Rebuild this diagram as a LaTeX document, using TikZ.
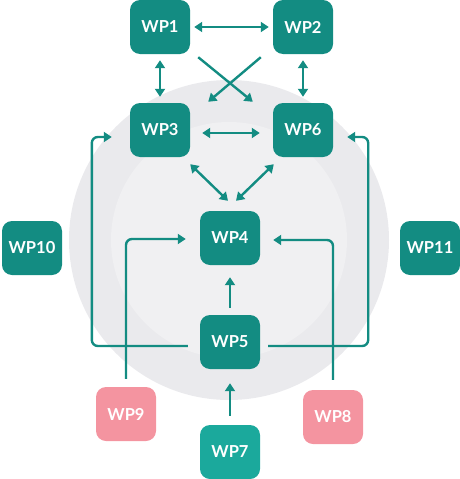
\documentclass[tikz,border=0pt]{standalone}
\usepackage{fontspec}
\setmainfont{Lato}
\usetikzlibrary{arrows.meta}
\definecolor{wpteal}{HTML}{138C82}
\definecolor{wplight}{HTML}{1BA99C}
\definecolor{wppink}{HTML}{F494A0}
\definecolor{ringout}{HTML}{EAEAED}
\definecolor{ringin}{HTML}{F0F0F2}
\tikzset{
  wp/.style={rectangle, rounded corners=10pt, minimum width=60pt, minimum height=54pt, inner sep=0pt, text centered, fill=wpteal, text=white, font=\bfseries\fontsize{16.5}{19}\selectfont},
  wpl/.style={wp, fill=wplight},
  wpp/.style={wp, fill=wppink},
  link/.style={draw=wpteal, line width=2.4pt},
}

\begin{document}
\begin{tikzpicture}[x=1pt, y=-1pt, >={Triangle[length=8pt,width=10pt]}]
	\useasboundingbox (0,0) rectangle (460,479);
	\fill[ringout] (229,240) circle (160);
	\fill[ringin] (229,240) circle (118);

	\node[wp] (wp1) at (160,27) {WP1};
	\node[wp] (wp2) at (303,27) {WP2};
	\node[wp] (wp3) at (160,130) {WP3};
	\node[wp] (wp6) at (303,130) {WP6};
	\node[wp] (wp4) at (230,238) {WP4};
	\node[wp] (wp5) at (230,342) {WP5};
	\node[wp] (wp10) at (32,248) {WP10};
	\node[wp] (wp11) at (430,248) {WP11};
	\node[wpp] (wp9) at (126,414) {WP9};
	\node[wpp] (wp8) at (333,417) {WP8};
	\node[wpl] (wp7) at (230,452) {WP7};
	%
	\draw[link, <->, shorten <=4pt, shorten >=4pt] (wp1) -- (wp2);
	\draw[link, <->, shorten <=6pt, shorten >=6pt] (wp1) -- (wp3);
	\draw[link, <->, shorten <=6pt, shorten >=6pt] (wp2) -- (wp6);
	\draw[link, ->] ([shift={(8,3)}]wp1.south east) -- ([shift={(-20,-1)}]wp6.north west);
	\draw[link, ->] ([shift={(-12,3)}]wp2.south west) -- ([shift={(18,-1)}]wp3.north east);
	\draw[link, <->] ([shift={(12,3)}]wp3.east) -- ([shift={(-13,3)}]wp6.west);

	\draw[link, <->] ([shift={(0,7)}]wp3.south east) -- ([shift={(-2,-10)}]wp4.north);
	\draw[link, <->] ([shift={(1,7)}]wp6.south west) -- ([shift={(6,-10)}]wp4.north);

	\draw[link, ->] ([shift={(0,-7)}]wp5.north) -- ([shift={(0,12)}]wp4.south);
	\draw[link, ->] ([shift={(0,-9)}]wp7.north) -- ([shift={(0,14)}]wp5.south);

	\draw[link, ->, rounded corners=6pt] ([shift={(-12,4)}]wp5.west) -- ++(-96,0) |- ([shift={(-18,7)}]wp3.west);
	\draw[link, ->, rounded corners=6pt] ([shift={(8,4)}]wp5.east) -- ++(100,0) |- ([shift={(14,7)}]wp6.east);

	\draw[link, ->, rounded corners=6pt] ([shift={(0,-8)}]wp9.north) |- ([shift={(-14,1)}]wp4.west);
	\draw[link, ->, rounded corners=6pt] ([shift={(0,-10)}]wp8.north) |- ([shift={(13,2)}]wp4.east);
\end{tikzpicture}
\end{document}
